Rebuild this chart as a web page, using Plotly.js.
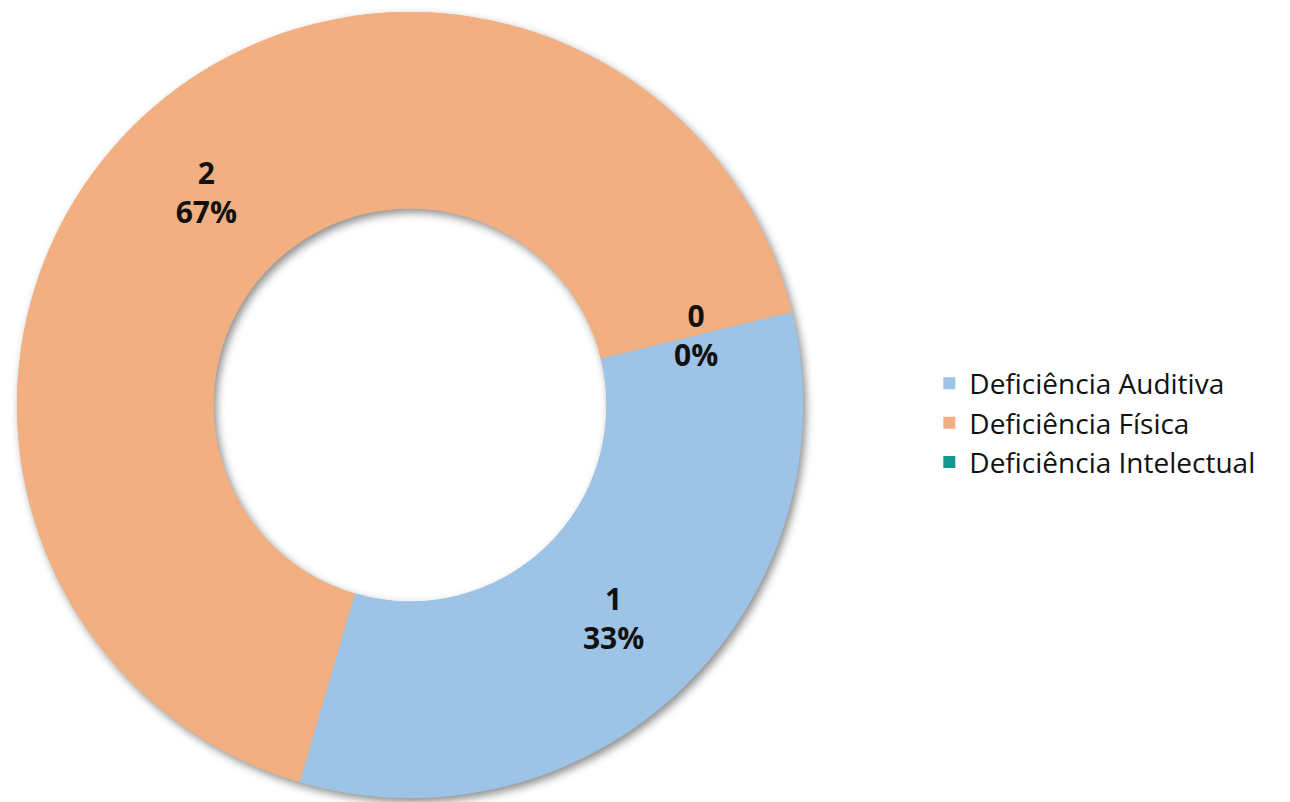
<!DOCTYPE html>
<html>
<head>
<meta charset="utf-8">
<script src="https://cdn.plot.ly/plotly-3.0.1.min.js"></script>
<style>
  html, body { margin: 0; padding: 0; background: #fff; }
  #chart { width: 1290px; height: 802px; }
</style>
</head>
<body>
<div id="chart"></div>
<script>
// dados do gráfico
const categorias = ['Deficiência Auditiva', 'Deficiência Física', 'Deficiência Intelectual'];
const valores = [1, 2, 0];
const cores = ['#9DC3E6', '#F2AF82', '#16968F'];

const W = 1290, H = 802;
const hole = 0.5;
const rotacao = 76.3;  // graus, sentido horário a partir do topo
const domX = [17 / W, 803 / W];
const margem = { l: 0, r: 0, t: 12, b: 4 };
const fonteRotulo = { family: 'Open Sans, sans-serif', size: 30, color: '#111' };

const trace = {
  type: 'pie',
  labels: categorias,
  values: valores,
  hole: hole,
  sort: false,
  direction: 'clockwise',
  rotation: rotacao,
  marker: { colors: cores, line: { width: 0 } },
  texttemplate: '<b>%{value}<br>%{percent:.0%}</b>',
  textposition: 'inside',
  insidetextorientation: 'horizontal',
  insidetextfont: fonteRotulo,
  hoverinfo: 'label+value+percent',
  domain: { x: domX, y: [0, 1] }
};

// o plotly não escreve texto em fatias de valor zero: rótulo via anotação
const total = valores.reduce((a, b) => a + b, 0);
const plotH = H - margem.t - margem.b;
const raio = plotH / 2;
const cx = (domX[0] + domX[1]) / 2 * W;
const cy = margem.t + raio;
const anotacoes = [];
let acumulado = 0;
valores.forEach(v => {
  const meio = acumulado + v / 2;
  acumulado += v;
  if (v !== 0) return;
  const ang = (rotacao + 360 * meio / total) * Math.PI / 180;
  const r = raio * (1 + hole) / 2;
  const px = cx + r * Math.sin(ang);
  const py = cy - r * Math.cos(ang);
  anotacoes.push({
    xref: 'paper', yref: 'paper',
    x: px / W,
    y: 1 - (py - margem.t) / plotH,
    text: '<b>' + v + '<br>' + Math.round(100 * v / total) + '%</b>',
    showarrow: false,
    font: fonteRotulo
  });
});

const layout = {
  width: W,
  height: H,
  margin: margem,
  paper_bgcolor: '#fff',
  showlegend: true,
  legend: {
    x: 0.7204, xanchor: 'left',
    y: 0.477, yanchor: 'middle',
    traceorder: 'normal',
    font: { family: 'Open Sans, sans-serif', size: 28, color: '#111' },
    itemwidth: 30,
    tracegroupgap: 0
  },
  annotations: anotacoes
};

Plotly.newPlot('chart', [trace], layout, { displayModeBar: false }).then(gd => {
  // sombra suave sob o anel (cópia sem texto, desenhada por baixo)
  const tr = gd.querySelector('.pielayer .trace');
  const sombra = tr.cloneNode(true);
  sombra.querySelectorAll('.slicetext').forEach(n => n.remove());
  sombra.style.filter = 'drop-shadow(3px 4px 4px rgba(0,0,0,0.45))';
  tr.parentNode.insertBefore(sombra, tr);
});
</script>
</body>
</html>
